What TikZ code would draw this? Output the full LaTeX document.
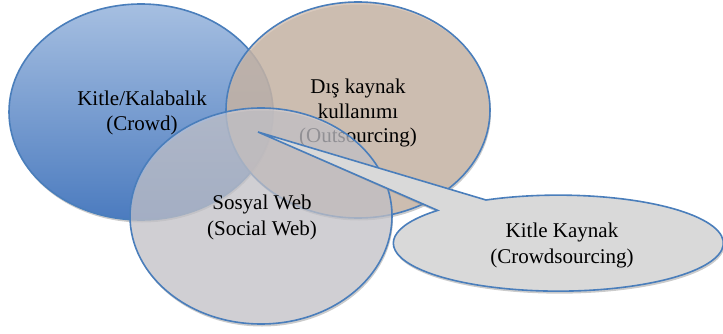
\documentclass[tikz,border=0pt]{standalone}
\usepackage{fontspec}
\setmainfont{Liberation Serif}
\usetikzlibrary{shapes.geometric,shadows}
\definecolor{edgeblue}{HTML}{4A7EBB}
\definecolor{bluetop}{HTML}{A6BFE1}
\definecolor{bluebot}{HTML}{4B7BBF}
\definecolor{brownfill}{HTML}{CDB8A7}
\definecolor{greyfill}{HTML}{D5D3DB}
\definecolor{callfill}{HTML}{D9D9D9}
\tikzset{
  venn/.style={ellipse, draw=edgeblue, line width=1.6pt, inner sep=0pt,
    minimum width=264pt, minimum height=216pt, align=center,
    font=\fontsize{21}{24.5}\selectfont,
    drop shadow={shadow xshift=1pt, shadow yshift=-2.5pt, fill=black!45, opacity=0.45}},
  lbl/.style={align=center, inner sep=0pt}
}
\begin{document}
\begin{tikzpicture}[x=1pt,y=1pt]
\useasboundingbox (0,0) rectangle (723,333);
% Kitle/Kalabalik
\node[venn, top color=bluetop, bottom color=bluebot] (crowd) at (141,221) {};
\node[lbl, font=\fontsize{21}{24.5}\selectfont] (crowdtxt) at (142,220) {Kitle/Kalabalık\\(Crowd)};
% Dis kaynak
\node[venn, fill=brownfill, fill opacity=0.75, text opacity=1] (out) at (358,223) {};
\node[lbl, font=\fontsize{21}{24.5}\selectfont] (outtxt) at (358,220) {Dış kaynak\\kullanımı\\(Outsourcing)};
% Sosyal Web
\node[venn, fill=greyfill, fill opacity=0.55, text opacity=1, minimum width=262pt] (web) at (261,117) {};
\node[lbl, font=\fontsize{21}{26}\selectfont] (webtxt) at (262,116) {Sosyal Web\\(Social Web)};
% Callout
\coordinate (tip) at (258,201);
\fill[black!45, opacity=0.45, xshift=1pt, yshift=-2.5pt]
  (tip) -- (486,133) arc[start angle=116, end angle=-223, x radius=165pt, y radius=48pt] -- cycle;
\path[draw=edgeblue, line width=1.6pt, fill=callfill, line join=miter]
  (tip) -- (486,133) arc[start angle=116, end angle=-223, x radius=165pt, y radius=48pt] -- cycle;
\node[lbl, font=\fontsize{21}{26}\selectfont] (calltxt) at (562,88) {Kitle Kaynak\\(Crowdsourcing)};
\end{tikzpicture}
\end{document}
